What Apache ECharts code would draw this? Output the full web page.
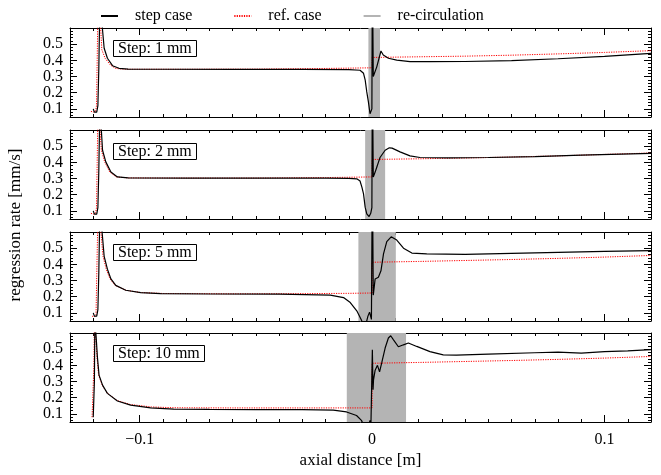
<!DOCTYPE html>
<html>
<head>
<meta charset="utf-8">
<script src="https://cdn.jsdelivr.net/npm/echarts@6/dist/echarts.min.js"></script>
<style>
  html, body { margin: 0; background: #fff; }
  #main { width: 661px; height: 475px; }
</style>
</head>
<body>
<div id="main"></div>
<script>
// panel labels and re-circulation zones [start, end] in m
const stepLabels = ['Step: 1 mm', 'Step: 2 mm', 'Step: 5 mm', 'Step: 10 mm'];
const recirculation = [[-0.0016, 0.0034], [-0.003, 0.0056], [-0.0059, 0.0102], [-0.0109, 0.0146]];

const xTickLabels = [-0.1, 0, 0.1];
const yTickLabels = [0.1, 0.2, 0.3, 0.4, 0.5];

// step case, [x (m), rate (mm/s)]
const step1 = [
  [-0.1200, 0.10], [-0.1195, 0.08], [-0.1190, 0.07], [-0.1185, 0.08], [-0.1180, 0.12],
  [-0.1176, 0.35], [-0.1172, 0.70], [-0.1166, 0.75], [-0.1162, 0.62], [-0.1153, 0.475],
  [-0.1139, 0.413], [-0.1117, 0.367], [-0.1089, 0.351], [-0.1050, 0.346], [-0.09, 0.345],
  [-0.06, 0.344], [-0.03, 0.344], [-0.01, 0.343], [-0.0052, 0.339], [-0.0037, 0.32],
  [-0.003, 0.28], [-0.0023, 0.205], [-0.0016, 0.143], [-0.0009, 0.07], [-0.0005, 0.08],
  [-0.0001, 0.10], [0.0001, 1.0], [0.0004, 1.0], [0.0005, 0.30], [0.0008, 0.31],
  [0.002, 0.36], [0.0038, 0.458], [0.0048, 0.433], [0.007, 0.413], [0.0106, 0.402],
  [0.0163, 0.392], [0.025, 0.392], [0.04, 0.393], [0.06, 0.398], [0.08, 0.41],
  [0.1, 0.425], [0.12, 0.443]
];
const step2 = [
  [-0.1200, 0.10], [-0.1195, 0.08], [-0.1190, 0.07], [-0.1185, 0.08], [-0.1180, 0.12],
  [-0.1176, 0.35], [-0.1172, 0.70], [-0.1166, 0.62], [-0.1160, 0.475], [-0.1146, 0.403],
  [-0.1124, 0.34], [-0.1096, 0.31], [-0.105, 0.304], [-0.08, 0.303], [-0.04, 0.302],
  [-0.02, 0.302], [-0.01, 0.301], [-0.0066, 0.298], [-0.0052, 0.285], [-0.0044, 0.247],
  [-0.0037, 0.205], [-0.003, 0.123], [-0.0023, 0.082], [-0.0013, 0.065], [-0.0006, 0.085],
  [-0.0001, 0.12], [0.0001, 1.0], [0.0004, 1.0], [0.0005, 0.31], [0.0013, 0.34],
  [0.002, 0.37], [0.0027, 0.40], [0.0034, 0.43], [0.0056, 0.475], [0.0074, 0.49],
  [0.0086, 0.488], [0.012, 0.465], [0.0163, 0.44], [0.0206, 0.43], [0.033, 0.428],
  [0.05, 0.43], [0.07, 0.436], [0.09, 0.445], [0.12, 0.455]
];
const step3 = [
  [-0.1200, 0.10], [-0.1195, 0.08], [-0.1190, 0.07], [-0.1185, 0.08], [-0.1180, 0.12],
  [-0.1176, 0.35], [-0.1172, 0.70], [-0.1166, 0.75], [-0.1162, 0.60], [-0.1153, 0.45],
  [-0.1139, 0.37], [-0.1124, 0.31], [-0.1103, 0.27], [-0.106, 0.24], [-0.0996, 0.225],
  [-0.091, 0.219], [-0.07, 0.217], [-0.04, 0.216], [-0.018, 0.21], [-0.0123, 0.195],
  [-0.0094, 0.164], [-0.0066, 0.113], [-0.0044, 0.05], [-0.0035, 0.03], [-0.0025, 0.04],
  [-0.0018, 0.08], [-0.0011, 0.105], [-0.0007, 0.10], [-0.0003, 0.06], [0.0001, 1.0],
  [0.0004, 1.0], [0.0005, 0.21], [0.0013, 0.31], [0.0027, 0.32], [0.0038, 0.36],
  [0.0049, 0.465], [0.0063, 0.54], [0.0082, 0.57], [0.0106, 0.55], [0.0135, 0.50],
  [0.0171, 0.47], [0.0235, 0.465], [0.04, 0.462], [0.06, 0.468], [0.08, 0.474],
  [0.1, 0.48], [0.12, 0.485]
];
const step4 = [
  [-0.1200, 0.08], [-0.1197, 0.075], [-0.1195, 0.30], [-0.1193, 0.70], [-0.1186, 0.70],
  [-0.1182, 0.45], [-0.1175, 0.34], [-0.1160, 0.278], [-0.1139, 0.227], [-0.1096, 0.18],
  [-0.1039, 0.154], [-0.0953, 0.137], [-0.0854, 0.13], [-0.07, 0.128], [-0.05, 0.127],
  [-0.03, 0.126], [-0.0167, 0.123], [-0.011, 0.112], [-0.0067, 0.09], [-0.0046, 0.06],
  [-0.0036, 0.03], [-0.002, 0.02], [-0.0013, 0.04], [-0.0009, 0.06], [-0.0005, 0.04],
  [-0.0001, 0.03], [0.0001, 0.496], [0.0003, 0.496], [0.0004, 0.25], [0.0006, 0.31],
  [0.0013, 0.37], [0.0023, 0.40], [0.0032, 0.36], [0.0042, 0.42], [0.0056, 0.507],
  [0.007, 0.569], [0.008, 0.583], [0.0092, 0.558], [0.0113, 0.515], [0.0135, 0.527],
  [0.0156, 0.538], [0.0192, 0.517], [0.0249, 0.485], [0.0306, 0.465], [0.0363, 0.463],
  [0.05, 0.47], [0.07, 0.478], [0.08, 0.482], [0.09, 0.476], [0.1, 0.485],
  [0.11, 0.49], [0.12, 0.497]
];

// reference case (no step)
const ref1 = [
  [-0.1210, 0.085], [-0.1200, 0.08], [-0.1190, 0.085], [-0.1186, 0.12], [-0.1183, 0.40],
  [-0.1180, 0.70], [-0.1172, 0.75], [-0.1168, 0.60], [-0.1163, 0.465], [-0.1149, 0.413],
  [-0.1126, 0.371], [-0.1104, 0.35], [-0.106, 0.345], [-0.08, 0.345], [-0.05, 0.346],
  [-0.02, 0.35], [0, 0.354], [0, 0.418], [0.02, 0.422], [0.04, 0.426],
  [0.06, 0.432], [0.08, 0.44], [0.1, 0.449], [0.12, 0.46]
];
const ref2 = [
  [-0.1210, 0.085], [-0.1200, 0.08], [-0.1190, 0.085], [-0.1186, 0.12], [-0.1183, 0.40],
  [-0.1180, 0.70], [-0.1172, 0.62], [-0.1165, 0.475], [-0.1151, 0.403], [-0.1129, 0.34],
  [-0.1101, 0.31], [-0.105, 0.304], [-0.08, 0.303], [-0.05, 0.303], [-0.02, 0.306],
  [0, 0.31], [0, 0.418], [0.02, 0.422], [0.04, 0.427], [0.06, 0.433],
  [0.08, 0.44], [0.1, 0.449], [0.12, 0.458]
];
const ref3 = [
  [-0.1205, 0.08], [-0.1195, 0.075], [-0.1188, 0.09], [-0.1184, 0.40], [-0.1180, 0.70],
  [-0.1172, 0.75], [-0.1167, 0.60], [-0.1158, 0.45], [-0.1144, 0.37], [-0.1128, 0.31],
  [-0.1106, 0.27], [-0.106, 0.24], [-0.0996, 0.226], [-0.09, 0.22], [-0.06, 0.218],
  [-0.03, 0.219], [-0.01, 0.221], [0, 0.223], [0, 0.413], [0.02, 0.418],
  [0.04, 0.424], [0.06, 0.43], [0.08, 0.437], [0.1, 0.445], [0.12, 0.455]
];
const ref4 = [
  [-0.1205, 0.08], [-0.1199, 0.08], [-0.1197, 0.40], [-0.1195, 0.70], [-0.1188, 0.70],
  [-0.1184, 0.45], [-0.1177, 0.34], [-0.1162, 0.28], [-0.1141, 0.23], [-0.1098, 0.183],
  [-0.104, 0.158], [-0.095, 0.143], [-0.085, 0.138], [-0.06, 0.137], [-0.03, 0.137],
  [-0.01, 0.137], [0, 0.137], [0, 0.413], [0.02, 0.418], [0.04, 0.424],
  [0.06, 0.43], [0.08, 0.437], [0.1, 0.445], [0.12, 0.455]
];

const stepCase = [step1, step2, step3, step4];
const refCase = [ref1, ref2, ref3, ref4];

const FONT = "'Liberation Serif', 'DejaVu Serif', serif";
const gridTops = [28, 130, 232, 333];
const boxTops = [40, 143, 244, 345];

// minor tick positions
const xMinor = [];
for (let k = -13; k <= 12; k++) xMinor.push(k / 100);
const yMinor = [];
for (let k = 3; k <= 29; k++) yMinor.push(+(k * 0.02).toFixed(2));

const grids = [];
const xAxes = [];
const yAxes = [];
const series = [];
const titles = [];

gridTops.forEach((top, i) => {
  const last = i === gridTops.length - 1;
  grids.push({ left: 70, right: 10, top: top, height: 89 });

  ['bottom', 'top'].forEach((pos) => {
    xAxes.push({
      type: 'value', gridIndex: i, position: pos, min: -0.13, max: 0.12,
      axisLine: { show: true, onZero: false, lineStyle: { color: '#000', width: 1 } },
      axisTick: { show: true, inside: true, length: 3, customValues: xMinor, lineStyle: { color: '#000' } },
      axisLabel: { show: false },
      splitLine: { show: false },
    });
    const withLabel = last && pos === 'bottom';
    xAxes.push({
      type: 'value', gridIndex: i, position: pos, min: -0.13, max: 0.12,
      axisLine: { show: false, onZero: false },
      axisTick: { show: true, inside: true, length: 7, customValues: xTickLabels, lineStyle: { color: '#000' } },
      axisLabel: {
        show: withLabel, customValues: xTickLabels, margin: 10,
        fontSize: 16, fontFamily: FONT, color: '#000',
        formatter: (v) => String(v).replace('-', '\u2212'),
      },
      splitLine: { show: false },
      name: withLabel ? 'axial distance [m]' : '',
      nameLocation: 'middle',
      nameGap: 30,
      nameTextStyle: { fontSize: 17, fontFamily: FONT, color: '#000' },
    });
  });

  ['left', 'right'].forEach((pos) => {
    yAxes.push({
      type: 'value', gridIndex: i, position: pos, min: 0.05, max: 0.6,
      axisLine: { show: true, onZero: false, lineStyle: { color: '#000', width: 1 } },
      axisTick: { show: true, inside: true, length: 3, customValues: yMinor, lineStyle: { color: '#000' } },
      axisLabel: { show: false },
      splitLine: { show: false },
    });
    yAxes.push({
      type: 'value', gridIndex: i, position: pos, min: 0.05, max: 0.6,
      axisLine: { show: false, onZero: false },
      axisTick: { show: true, inside: true, length: 7, customValues: yTickLabels, lineStyle: { color: '#000' } },
      axisLabel: {
        show: pos === 'left', customValues: yTickLabels, margin: 7,
        fontSize: 16, fontFamily: FONT, color: '#000',
        formatter: (v) => v.toFixed(1),
      },
      splitLine: { show: false },
    });
  });

  const xi = i * 4;
  const yi = i * 4;
  series.push({
    name: 're-circulation', type: 'line', xAxisIndex: xi, yAxisIndex: yi,
    data: [], symbol: 'none', z: 1,
    lineStyle: { color: '#b4b4b4', width: 2 },
    itemStyle: { color: '#b4b4b4' },
    markArea: {
      silent: true,
      itemStyle: { color: '#b4b4b4', opacity: 1 },
      data: [[{ xAxis: recirculation[i][0] }, { xAxis: recirculation[i][1] }]],
    },
  });
  series.push({
    name: 'ref. case', type: 'line', xAxisIndex: xi, yAxisIndex: yi,
    data: refCase[i], symbol: 'none', z: 3,
    lineStyle: { color: '#ff0000', width: 1, type: [1.2, 1.2] },
    itemStyle: { color: '#ff0000' },
  });
  series.push({
    name: 'step case', type: 'line', xAxisIndex: xi, yAxisIndex: yi,
    data: stepCase[i], symbol: 'none', z: 4,
    lineStyle: { color: '#000', width: 1.2 },
    itemStyle: { color: '#000' },
  });

  titles.push({
    text: stepLabels[i], left: 113, top: boxTops[i],
    padding: [1, 5, 0, 5], borderColor: '#000', borderWidth: 1,
    textStyle: { fontSize: 16, fontWeight: 'normal', fontFamily: FONT, color: '#000' },
  });
});

const chart = echarts.init(document.getElementById('main'));
chart.setOption({
  animation: false,
  backgroundColor: '#fff',
  title: titles,
  legend: {
    left: 100, top: 8, padding: 0, selectedMode: false,
    itemWidth: 17, itemHeight: 10, itemGap: 41,
    itemStyle: { opacity: 0, borderWidth: 0 },
    data: ['step case', 'ref. case', 're-circulation'],
    textStyle: { fontFamily: FONT, fontSize: 16, color: '#000', padding: [0, 0, 0, 12] },
  },
  grid: grids,
  xAxis: xAxes,
  yAxis: yAxes,
  series: series,
  graphic: [{
    type: 'text', x: 16, y: 225, rotation: Math.PI / 2,
    style: {
      text: 'regression rate [mm/s]', fontSize: 17, fontFamily: FONT, fill: '#000',
      align: 'center', verticalAlign: 'middle',
    },
  }],
});
</script>
</body>
</html>
